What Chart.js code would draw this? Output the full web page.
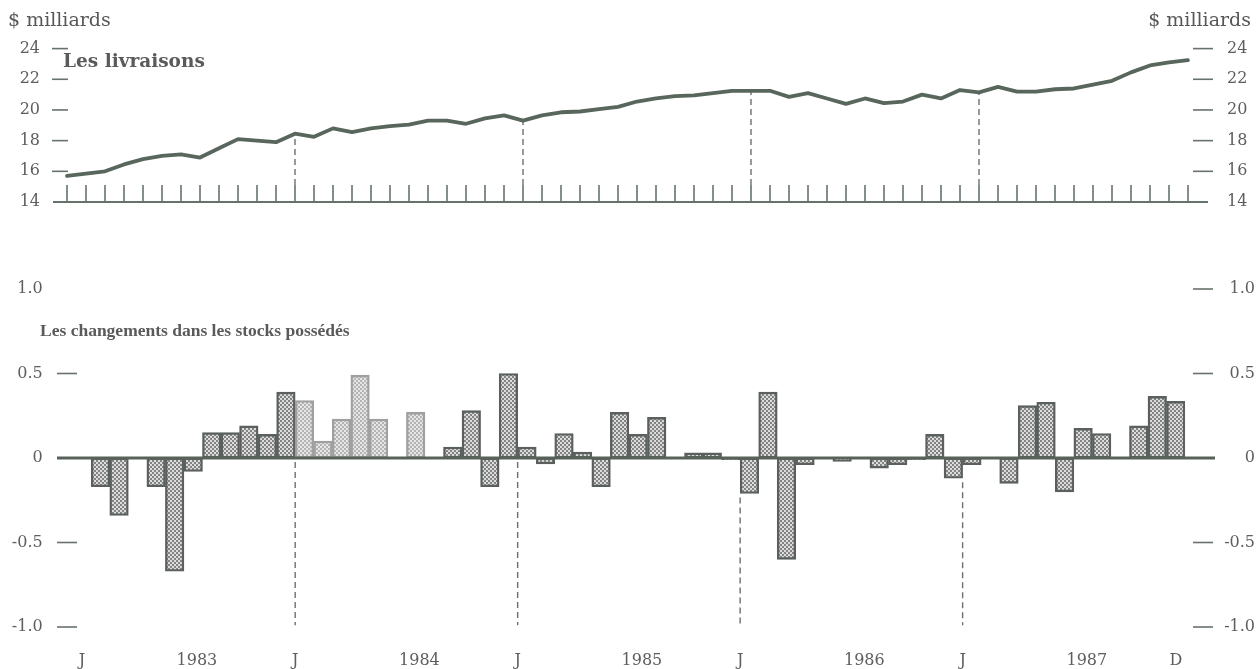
<!DOCTYPE html>
<html><head><meta charset="utf-8">
<script src="https://cdn.jsdelivr.net/npm/chart.js@4.4.0/dist/chart.umd.min.js"></script>
<style>
html,body{margin:0;padding:0;background:#fff;width:1257px;height:669px;overflow:hidden;}
#wrap{position:relative;width:1257px;height:669px;background:#fff;}
canvas{position:absolute;left:0;top:0;}
.t{position:absolute;font-family:"DejaVu Serif",serif;color:#575757;white-space:nowrap;line-height:1;}
.b{font-weight:bold;color:#5a5a5a;}
</style></head><body>
<div id="wrap">
<canvas id="c1" width="1257" height="669"></canvas>
<canvas id="c2" width="1257" height="669"></canvas>
<div class="t" style="left:8px;top:10px;font-size:19px">$ milliards</div>
<div class="t" style="right:6px;top:10px;font-size:19px">$ milliards</div>
<div class="t b" style="left:63px;top:52px;font-size:18.5px">Les livraisons</div>
<div class="t b" style="left:40px;top:322px;font-size:17.5px;font-family:'Liberation Serif',serif">Les changements dans les stocks possédés</div>
</div>
<script>
// ---- data ----
const years = ["1983","1984","1985","1986","1987"];
const monthNames = ["J","F","M","A","M","J","J","A","S","O","N","D"];
const livraisons = [
  15.7,15.85,16.0,16.45,16.8,17.0,17.1,16.9,17.5,18.1,18.0,17.9,
  18.45,18.25,18.8,18.55,18.8,18.95,19.05,19.3,19.3,19.1,19.45,19.65,
  19.3,19.65,19.85,19.9,20.05,20.2,20.55,20.75,20.9,20.95,21.1,21.25,
  21.25,21.25,20.85,21.1,20.75,20.4,20.75,20.45,20.55,21.0,20.75,21.3,
  21.15,21.5,21.2,21.2,21.35,21.4,21.65,21.9,22.45,22.9,23.1,23.25];
const stocks = [
  0,-0.17,-0.34,0,-0.17,-0.67,-0.08,0.15,0.15,0.19,0.14,0.39,
  0.34,0.10,0.23,0.49,0.23,0,0.27,0,0.065,0.28,-0.17,0.50,
  0.065,-0.035,0.145,0.035,-0.17,0.27,0.14,0.24,0,0.03,0.03,-0.01,
  -0.21,0.39,-0.60,-0.04,0,-0.02,0,-0.06,-0.04,-0.01,0.14,-0.12,
  -0.04,0,-0.15,0.31,0.33,-0.20,0.175,0.145,0,0.19,0.365,0.335];
const topTicks = [14,16,18,20,22,24];
const bottomTicks = [-1.0,-0.5,0,0.5,1.0];
const xLabels = ["J","1983","J","1984","J","1985","J","1986","J","1987","D"];

const months = years.flatMap(y => monthNames.map(m => m + " " + y));

// ---- styles ----
const tickFont = {family:"DejaVu Serif", size:16};
const tickColor = "#5e5e5e";
const lineColor = "#58665c";
const axisColor = "#66736a";

function makePattern(ctx, bg, fg){
  const c = document.createElement('canvas'); c.width = 4; c.height = 4;
  const g = c.getContext('2d');
  g.fillStyle = bg; g.fillRect(0,0,4,4);
  g.fillStyle = fg; g.fillRect(0,0,2,2); g.fillRect(2,2,2,2);
  return ctx.createPattern(c,'repeat');
}

function fixWidth(w){ return s => { s.width = w; }; }
function fixHeight(h){ return s => { s.height = h; }; }

function hLine(ctx, x1, x2, y, w, col){
  ctx.save(); ctx.strokeStyle = col; ctx.lineWidth = w;
  ctx.beginPath(); ctx.moveTo(x1,y); ctx.lineTo(x2,y); ctx.stroke(); ctx.restore();
}
function vLine(ctx, x, y1, y2, w, col, dash){
  ctx.save(); ctx.strokeStyle = col; ctx.lineWidth = w; if(dash) ctx.setLineDash(dash);
  ctx.beginPath(); ctx.moveTo(x,y1); ctx.lineTo(x,y2); ctx.stroke(); ctx.restore();
}

// ---- top chart ----
const topDecor = {
  id:'topDecor',
  beforeDatasetsDraw(chart){
    const ctx = chart.ctx, xs = chart.scales.x, ys = chart.scales.y;
    const y0 = ys.getPixelForValue(14);
    hLine(ctx, 53, 1208, y0, 2, axisColor);
    for(let i=0;i<livraisons.length;i++){
      const x = xs.getPixelForValue(i);
      vLine(ctx, x, y0, y0-17, 1.6, axisColor);
      if(i>0 && i%12===0){
        vLine(ctx, x, y0-17, ys.getPixelForValue(livraisons[i]), 1.4, "#6f6f6f", [6,4]);
      }
    }
    topTicks.forEach(v=>{
      if(v===14) return;
      const y = ys.getPixelForValue(v);
      hLine(ctx, 52, 68, y, 1.6, axisColor);
      hLine(ctx, 1193, 1213, y, 1.6, axisColor);
    });
  }
};

new Chart(document.getElementById('c1'), {
  type:'line',
  data:{labels:months, datasets:[{data:livraisons, borderColor:lineColor, borderWidth:3.8,
    pointRadius:0, tension:0, fill:false, borderJoinStyle:'round', borderCapStyle:'round'}]},
  options:{
    responsive:false, animation:false, devicePixelRatio:1,
    layout:{padding:{top:44,bottom:467,left:0,right:0}},
    plugins:{legend:{display:false}, tooltip:{enabled:false}},
    scales:{
      x:{type:'category', display:false, offset:false},
      y:{position:'left', min:14, max:24, afterFit:fixWidth(67),
         afterBuildTicks:s=>{s.ticks = topTicks.map(v=>({value:v}));},
         grid:{display:false, drawTicks:false}, border:{display:false},
         ticks:{font:tickFont, color:tickColor, padding:27, crossAlign:'near'}},
      y2:{position:'right', min:14, max:24, afterFit:fixWidth(69),
         afterBuildTicks:s=>{s.ticks = topTicks.map(v=>({value:v}));},
         grid:{display:false, drawTicks:false}, border:{display:false},
         ticks:{font:tickFont, color:tickColor, padding:39, crossAlign:'near'}}
    }
  },
  plugins:[topDecor]
});

// ---- bottom chart ----
const c2 = document.getElementById('c2');
const ctx2 = c2.getContext('2d');
const patDark = makePattern(ctx2, '#dcdcdc', '#838383');
const patLight = makePattern(ctx2, '#e6e6e6', '#b4b4b4');
const faded = i => i >= 12 && i <= 18;

const bottomDecor = {
  id:'bottomDecor',
  afterDatasetsDraw(chart){
    const ctx = chart.ctx, xs = chart.scales.x, ys = chart.scales.y;
    const y0 = ys.getPixelForValue(0);
    hLine(ctx, 57, 1215, y0, 3, "#58625b");
    for(let k=1;k<years.length;k++){
      const i = 12*k;
      const x = xs.getPixelForValue(i-0.5);
      const start = Math.min(0, stocks[i-1], stocks[i]);
      vLine(ctx, x, ys.getPixelForValue(start)+4, ys.getPixelForValue(-0.99), 1.4, "#6f6f6f", [6,4]);
    }
    bottomTicks.forEach(v=>{
      if(v===0) return;
      const y = ys.getPixelForValue(v);
      if(v!==1.0) hLine(ctx, 57, 77, y, 1.6, axisColor);
      hLine(ctx, 1193, 1213, y, 1.6, axisColor);
    });
  }
};

const xLabelPos = xLabels.map((_,j)=>{
  if(j===0) return 0;
  if(j===xLabels.length-1) return stocks.length-1;
  const k = Math.floor(j/2);
  return (j%2===1) ? 12*k + 6.2 : 12*k - 0.5;
});

new Chart(c2, {
  type:'bar',
  data:{labels:months, datasets:[{data:stocks,
    backgroundColor:c=>faded(c.dataIndex)?patLight:patDark,
    borderColor:c=>faded(c.dataIndex)?'#a0a0a0':'#5a615c',
    borderWidth:2.4, borderSkipped:false,
    barPercentage:1.0, categoryPercentage:1.0}]},
  options:{
    responsive:false, animation:false, devicePixelRatio:1,
    layout:{padding:{top:289,bottom:0,left:0,right:2}},
    plugins:{legend:{display:false}, tooltip:{enabled:false}},
    scales:{
      x:{type:'category', display:false, offset:true},
      x2:{type:'linear', position:'bottom', min:-0.5, max:59.5, offset:false, bounds:'data',
         afterFit:fixHeight(42),
         afterBuildTicks:s=>{s.ticks = xLabelPos.map(v=>({value:v}));},
         grid:{display:false, drawTicks:false, offset:false}, border:{display:false},
         ticks:{font:tickFont, color:tickColor, padding:24, maxRotation:0, autoSkip:false,
                callback:(v,i)=>xLabels[i]}},
      y:{position:'left', min:-1, max:1, afterFit:fixWidth(72.7),
         afterBuildTicks:s=>{s.ticks = bottomTicks.map(v=>({value:v}));},
         grid:{display:false, drawTicks:false}, border:{display:false},
         ticks:{font:tickFont, color:tickColor, padding:30, crossAlign:'near',
                callback:v=>v===0?'0':v.toFixed(1)}},
      y2:{position:'right', min:-1, max:1, afterFit:fixWidth(69.9),
         afterBuildTicks:s=>{s.ticks = bottomTicks.map(v=>({value:v}));},
         grid:{display:false, drawTicks:false}, border:{display:false},
         ticks:{font:tickFont, color:tickColor, padding:10, crossAlign:'far',
                callback:v=>v===0?'0':v.toFixed(1)}}
    }
  },
  plugins:[bottomDecor]
});
</script>
</body></html>
